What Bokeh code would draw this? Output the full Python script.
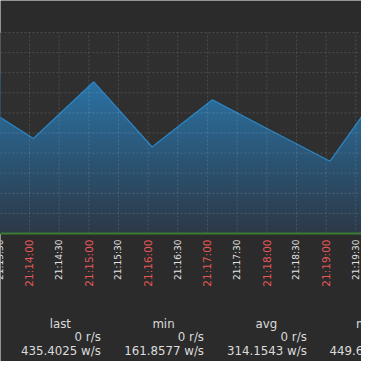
import math
import pandas as pd
from bokeh.plotting import figure
from bokeh.models import Range1d, FixedTicker, ColumnDataSource, BoxAnnotation, Span
from bokeh.core.properties import value
from bokeh.embed import file_html
from bokeh.resources import INLINE

# ---------------- data ----------------
DAY = "2024-01-01 "
sample_times = ["21:13:03", "21:14:04", "21:15:05", "21:16:04",
                "21:17:05", "21:18:03", "21:19:04", "21:20:04"]
write_values = [298.6, 212.7, 339.6, 193.7, 299.3, 231.7, 161.86, 349.5]  # w/s

tick_labels = ["21:13:30", "21:14:00", "21:14:30", "21:15:00", "21:15:30",
               "21:16:00", "21:16:30", "21:17:00", "21:17:30", "21:18:00",
               "21:18:30", "21:19:00", "21:19:30"]

legend_columns = ["last", "min", "avg", "max"]
legend_reads = ["0 r/s", "0 r/s", "0 r/s", "0 r/s"]
legend_writes = ["435.4025 w/s", "161.8577 w/s", "314.1543 w/s", "449.6621 w/s"]

y_grid_values = [45, 90, 135, 180, 225, 270, 315, 360, 405, 450]
YMAX = 450


def ms(t):
    return pd.Timestamp(DAY + t).value / 1e6


xs = [ms(t) for t in sample_times]
tick_ms = [ms(t) for t in tick_labels]

# view window: reference pixels 8..369 in both directions
PX_PER_S = 356.0 / 360.0
T0 = ms("21:13:30")
def t_at(ref_x):
    return T0 + (ref_x - 7.3) / PX_PER_S * 1000.0
def v_at(ref_y):
    return (241.0 - ref_y) * YMAX / 201.0

x_start, x_end = t_at(8), t_at(369)

BG_OUT = "#2b2b2b"
BG_PLOT = "#2f2f2f"

p = figure(width=361, height=361, output_backend="svg", toolbar_location=None,
           x_axis_location=None, y_axis_location=None,
           x_range=Range1d(x_start, x_end), y_range=Range1d(v_at(369), v_at(8)),
           min_border=0)
p.border_fill_color = BG_OUT
p.background_fill_color = BG_OUT
p.outline_line_color = None
p.grid.visible = False

# plot area background
p.add_layout(BoxAnnotation(bottom=0, top=YMAX, fill_color=BG_PLOT, fill_alpha=1,
                           line_color=None, level="underlay"))

# ---------------- gradient fill under the curve ----------------
N = 80
GTOP = 360.0
c0 = (44, 56, 70)
c1 = (42, 132, 193)
tops, colors = [], []
for i in range(N, 0, -1):
    top = GTOP * i / N
    f = top / YMAX
    col = tuple(int(round(c0[k] + (c1[k] - c0[k]) * f)) for k in range(3))
    tops.append(top)
    colors.append("#%02x%02x%02x" % col)
p.quad(left=xs[0], right=xs[-1], bottom=0, top=tops,
       fill_color=colors, line_color=None)

# mask above the curve
mask_x = xs + [xs[-1], xs[0]]
mask_y = write_values + [YMAX, YMAX]
p.patch(mask_x, mask_y, fill_color=BG_PLOT, line_color=None)

p.line(xs, write_values, line_color="#2a84c4", line_width=1.3)

# ---------------- grid lines (plot area only) ----------------
p.segment(x0=tick_ms, y0=0, x1=tick_ms, y1=YMAX,
          line_color="white", line_alpha=0.14, line_dash="2 2", line_width=1)
p.segment(x0=x_start, y0=y_grid_values, x1=x_end, y1=y_grid_values,
          line_color="white", line_alpha=0.14, line_dash="2 2", line_width=1)

# x axis line
p.add_layout(Span(location=0, dimension="width", line_color="#3a7d34", line_width=2))

# ---------------- time labels ----------------
is_red = [lab.endswith(":00") for lab in tick_labels]
tick_src = ColumnDataSource(dict(
    x=tick_ms,
    y=[v_at(247)] * len(tick_ms),
    text=tick_labels,
    color=["#e45858" if r else "#e2e2e2" for r in is_red],
    size=["10.5px" if r else "9px" for r in is_red],
))
p.text(x="x", y="y", text="text", source=tick_src, angle=math.pi / 2,
       text_align="right", text_baseline="middle",
       text_font=value("DejaVu Sans"), text_font_size="size", text_color="color")

# ---------------- legend table ----------------
col_right = [108.3, 211.5, 314.3, 416.8]
p.text(x=[t_at(r - 40.5) for r in col_right], y=[v_at(331)] * 4, text=legend_columns,
       text_align="center", text_baseline="alphabetic",
       text_font=value("DejaVu Sans"), text_font_size="11.8px", text_color="#dcdcdc")
p.text(x=[t_at(r) for r in col_right], y=[v_at(344.7)] * 4, text=legend_reads,
       text_align="right", text_baseline="alphabetic",
       text_font=value("DejaVu Sans"), text_font_size="11.8px", text_color="#dcdcdc")
p.text(x=[t_at(r) for r in col_right], y=[v_at(358.3)] * 4, text=legend_writes,
       text_align="right", text_baseline="alphabetic",
       text_font=value("DejaVu Sans"), text_font_size="11.8px", text_color="#dcdcdc")

open("out.html", "w").write(file_html(p, INLINE))
